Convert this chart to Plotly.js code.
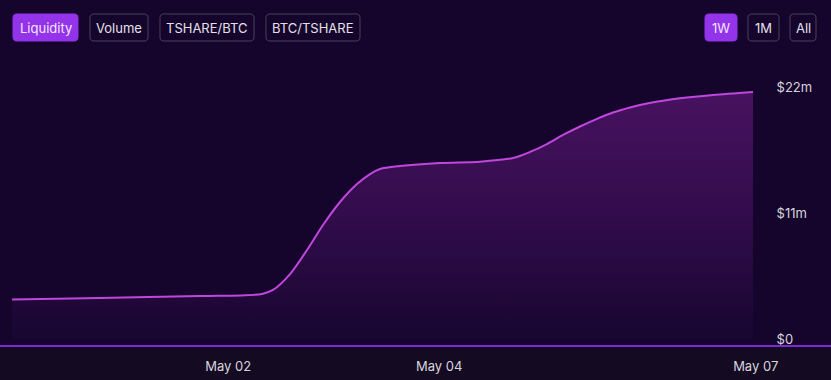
<!DOCTYPE html>
<html>
<head>
<meta charset="utf-8">
<script src="https://cdn.plot.ly/plotly-3.0.1.min.js"></script>
<style>
  html, body { margin: 0; padding: 0; background: #15052c; }
  #chart { width: 831px; height: 380px; }
</style>
</head>
<body>
<div id="chart"></div>
<script>
// ---- data ----
const times = [
  '2024-04-29 22:50', '2024-04-30 18:50', '2024-05-01 17:35', '2024-05-02 07:41',
  '2024-05-02 10:11', '2024-05-02 14:04', '2024-05-02 17:56', '2024-05-02 21:34',
  '2024-05-03 01:26', '2024-05-03 05:18', '2024-05-03 08:16', '2024-05-03 10:32',
  '2024-05-03 15:05', '2024-05-04 00:11', '2024-05-04 09:17', '2024-05-04 16:47',
  '2024-05-04 20:40', '2024-05-05 00:31', '2024-05-05 04:10', '2024-05-05 08:02',
  '2024-05-05 11:54', '2024-05-05 15:32', '2024-05-05 19:25', '2024-05-05 23:16',
  '2024-05-06 02:55', '2024-05-06 06:47', '2024-05-06 14:17', '2024-05-06 23:23'
];
const liquidityM = [
  3.45, 3.58, 3.75, 3.93,
  4.28, 5.67, 7.77, 9.95,
  11.96, 13.53, 14.40, 14.84,
  15.10, 15.37, 15.48, 15.80,
  16.33, 17.02, 17.81, 18.55,
  19.22, 19.77, 20.21, 20.56,
  20.80, 21.01, 21.30, 21.56
];
const xTickVals = ['2024-05-02', '2024-05-04', '2024-05-07'];
const xTickText = ['May 02', 'May 04', 'May 07'];
const yTickValsM = [0, 11, 22];
const yTickText = ['$0', '$11m', '$22m'];
const tabLabels = ['Liquidity', 'Volume', 'TSHARE/BTC', 'BTC/TSHARE'];
const rangeLabels = ['1W', '1M', 'All'];

// ---- layout geometry ----
const W = 831, H = 380;
const M = { l: 0, r: 63, t: 60, b: 34 };
const PW = W - M.l - M.r, PH = H - M.t - M.b;
const px2x = px => (px - M.l) / PW;
const py2y = py => (H - M.b - py) / PH;

function roundRect(x0, y0, x1, y1, r) {
  const P = (x, y) => px2x(x).toFixed(5) + ',' + py2y(y).toFixed(5);
  return 'M' + P(x0 + r, y0) + ' L' + P(x1 - r, y0) + ' Q' + P(x1, y0) + ' ' + P(x1, y0 + r) +
         ' L' + P(x1, y1 - r) + ' Q' + P(x1, y1) + ' ' + P(x1 - r, y1) +
         ' L' + P(x0 + r, y1) + ' Q' + P(x0, y1) + ' ' + P(x0, y1 - r) +
         ' L' + P(x0, y0 + r) + ' Q' + P(x0, y0) + ' ' + P(x0 + r, y0) + ' Z';
}

const tabBoxes = [[13, 78], [90, 148], [160, 254], [266, 360]];
const rangeBoxes = [[705, 737], [748, 779], [790, 816]];
const BY0 = 14, BY1 = 41;

const shapes = [
  { type: 'rect', xref: 'paper', yref: 'paper', x0: -0.05, x1: 1.2, y0: py2y(H + 5), y1: 0,
    fillcolor: '#140a22', line: { width: 0 }, layer: 'below' },
  { type: 'line', xref: 'paper', yref: 'paper', x0: -0.05, x1: 1.2, y0: py2y(346), y1: py2y(346),
    line: { color: '#7a2ad0', width: 2 } }
];
const annotations = [];

function addButton(label, box, active) {
  shapes.push({
    type: 'path', xref: 'paper', yref: 'paper',
    path: roundRect(box[0], BY0, box[1], BY1, 4),
    fillcolor: active ? '#9333ea' : 'rgba(0,0,0,0)',
    line: { color: active ? '#9333ea' : '#4a4158', width: 1 }
  });
  annotations.push({
    xref: 'paper', yref: 'paper', x: px2x((box[0] + box[1]) / 2), y: py2y((BY0 + BY1) / 2),
    xanchor: 'center', yanchor: 'middle', showarrow: false, text: label,
    font: { family: 'Inter, Roboto, sans-serif', size: 13, color: active ? '#f3e8ff' : '#e4e0ea' }
  });
}
tabLabels.forEach((l, i) => addButton(l, tabBoxes[i], i === 0));
rangeLabels.forEach((l, i) => addButton(l, rangeBoxes[i], i === 0));

const trace = {
  type: 'scatter', mode: 'lines',
  x: times, y: liquidityM.map(v => v * 1e6),
  line: { color: '#c047dc', width: 2, shape: 'spline', smoothing: 0.8 },
  fill: 'tozeroy',
  fillgradient: {
    type: 'vertical',
    colorscale: [[0, 'rgba(24,6,48,1)'], [0.5, 'rgba(50,12,76,1)'], [1, 'rgba(72,18,96,1)']]
  },
  hoverinfo: 'skip'
};

const pxPerM = (339 - 87) / 22;
const yMin = -(346 - 339) / pxPerM * 1e6;
const yMax = (339 - 60) / pxPerM * 1e6;

const layout = {
  width: W, height: H,
  margin: M,
  paper_bgcolor: '#15052c',
  plot_bgcolor: 'rgba(0,0,0,0)',
  showlegend: false,
  font: { family: 'Inter, Roboto, sans-serif', size: 13, color: '#d8d4de' },
  xaxis: {
    type: 'date',
    range: ['2024-04-29 20:05', '2024-05-07 02:48'],
    tickvals: xTickVals, ticktext: xTickText,
    showgrid: false, zeroline: false, showline: false,
    ticks: 'outside', ticklen: 8, tickcolor: 'rgba(0,0,0,0)',
    tickfont: { size: 13, color: '#d8d4de' },
    fixedrange: true
  },
  yaxis: {
    side: 'right',
    range: [yMin, yMax],
    tickvals: yTickValsM.map(v => v * 1e6), ticktext: yTickText,
    showgrid: false, zeroline: false, showline: false,
    ticks: 'outside', ticklen: 5, tickcolor: 'rgba(0,0,0,0)',
    tickfont: { size: 13, color: '#d8d4de' },
    fixedrange: true
  },
  shapes: shapes,
  annotations: annotations
};

Plotly.newPlot('chart', [trace], layout, { displayModeBar: false, staticPlot: true });
</script>
</body>
</html>
